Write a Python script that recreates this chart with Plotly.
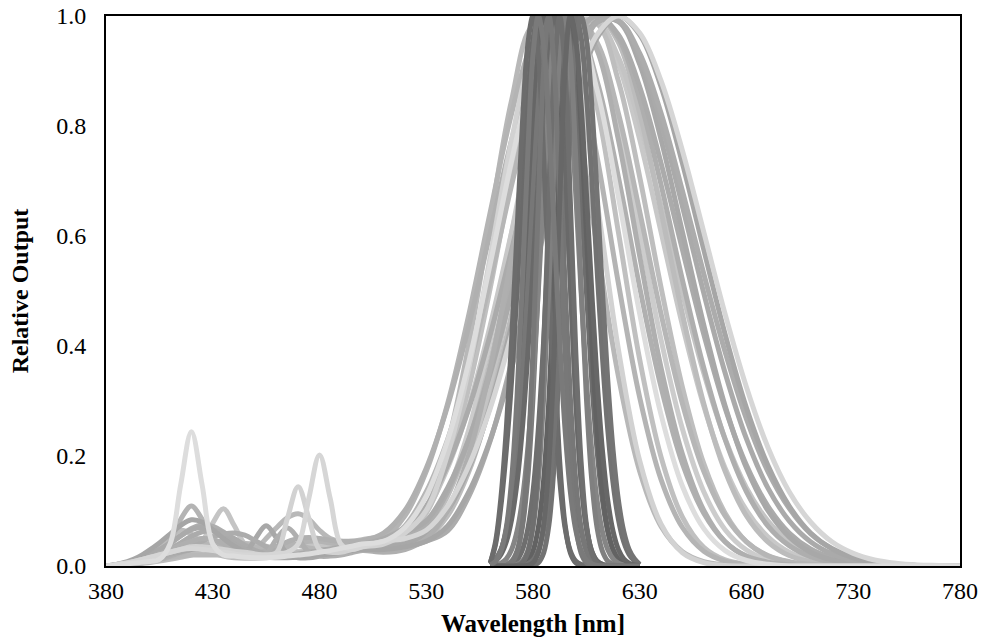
import plotly.graph_objects as go

# ---------------- axes / ticks ----------------
X_TICKS = [380, 430, 480, 530, 580, 630, 680, 730, 780]
Y_TICKS = [0.0, 0.2, 0.4, 0.6, 0.8, 1.0]

# wavelength grids (nm)
WL_BLUE = list(range(380, 501, 5))            # 380..500, blue pump residue
WL_RED = list(range(510, 781, 10))            # 510..780, phosphor emission
WL_NARROW = [560 + 2.5 * i for i in range(29)]  # 560..630, direct amber

# ---------------- PC-amber spectra: blue part (380..500 nm) ----------------
BL01 = [0,0.002,0.004,0.006,0.008,0.012,0.04,0.148,0.244,0.148,0.04,0.02,0.018,0.016,0.015,0.015,0.016,0.018,0.02,0.022,0.025,0.028,0.032,0.036,0.04]
BL02 = [0,0.003,0.006,0.01,0.015,0.02,0.025,0.03,0.032,0.03,0.028,0.025,0.022,0.02,0.02,0.02,0.022,0.025,0.04,0.123,0.202,0.123,0.04,0.03,0.035]
BL03 = [0,0.002,0.005,0.01,0.015,0.02,0.025,0.03,0.035,0.035,0.033,0.03,0.027,0.025,0.022,0.02,0.025,0.087,0.144,0.087,0.03,0.025,0.025,0.03,0.035]
BL04 = [0,0.003,0.006,0.01,0.015,0.02,0.045,0.085,0.109,0.085,0.05,0.035,0.03,0.028,0.025,0.025,0.03,0.035,0.04,0.045,0.045,0.042,0.04,0.04,0.04]
BL05 = [0,0.002,0.004,0.008,0.012,0.016,0.02,0.024,0.03,0.045,0.078,0.104,0.074,0.04,0.03,0.028,0.03,0.035,0.04,0.04,0.038,0.035,0.033,0.032,0.032]
BL06 = [0,0.002,0.004,0.007,0.01,0.013,0.016,0.018,0.02,0.02,0.02,0.02,0.02,0.022,0.03,0.05,0.07,0.088,0.095,0.085,0.065,0.05,0.045,0.045,0.048]
BL07 = [0,0.003,0.008,0.016,0.028,0.042,0.058,0.074,0.084,0.08,0.066,0.05,0.036,0.026,0.02,0.016,0.015,0.015,0.016,0.018,0.02,0.022,0.025,0.028,0.03]
BL08 = [0,0.002,0.004,0.008,0.012,0.017,0.022,0.026,0.03,0.03,0.028,0.024,0.02,0.022,0.05,0.073,0.05,0.022,0.015,0.015,0.018,0.022,0.026,0.03,0.033]
BL09 = [0,0.002,0.005,0.01,0.015,0.022,0.03,0.038,0.045,0.05,0.048,0.04,0.03,0.022,0.018,0.022,0.05,0.069,0.05,0.025,0.018,0.018,0.02,0.024,0.028]
BL10 = [0,0.002,0.005,0.01,0.018,0.028,0.04,0.055,0.068,0.075,0.072,0.062,0.048,0.035,0.026,0.02,0.018,0.018,0.02,0.022,0.025,0.027,0.03,0.032,0.035]
BL11 = [0,0.001,0.003,0.006,0.01,0.015,0.021,0.028,0.036,0.045,0.053,0.058,0.06,0.056,0.046,0.035,0.026,0.02,0.018,0.018,0.02,0.022,0.025,0.028,0.03]
BL12 = [0,0.001,0.003,0.005,0.008,0.012,0.018,0.025,0.03,0.032,0.03,0.026,0.022,0.02,0.022,0.028,0.036,0.044,0.05,0.052,0.05,0.047,0.045,0.045,0.046]
BL13 = [0,0.002,0.005,0.01,0.018,0.032,0.05,0.065,0.058,0.04,0.025,0.018,0.015,0.014,0.014,0.015,0.017,0.02,0.024,0.028,0.03,0.03,0.03,0.03,0.03]
BL14 = [0,0.002,0.005,0.01,0.016,0.024,0.032,0.04,0.046,0.05,0.048,0.042,0.034,0.027,0.022,0.019,0.018,0.019,0.021,0.024,0.027,0.03,0.032,0.034,0.035]
BL15 = [0,0.002,0.004,0.008,0.013,0.02,0.03,0.042,0.054,0.062,0.065,0.06,0.05,0.038,0.028,0.022,0.02,0.02,0.022,0.025,0.028,0.031,0.034,0.037,0.04]
BL16 = [0,0.001,0.003,0.006,0.009,0.012,0.016,0.02,0.024,0.027,0.029,0.03,0.03,0.029,0.028,0.027,0.026,0.026,0.027,0.028,0.03,0.032,0.034,0.036,0.038]
BL17 = [0,0.001,0.003,0.005,0.008,0.012,0.017,0.023,0.03,0.037,0.042,0.045,0.045,0.04,0.034,0.032,0.036,0.04,0.038,0.033,0.03,0.03,0.032,0.035,0.04]
BL18 = [0,0.002,0.006,0.012,0.02,0.03,0.042,0.055,0.066,0.07,0.064,0.052,0.04,0.03,0.024,0.02,0.018,0.018,0.02,0.022,0.025,0.028,0.031,0.034,0.036]
BL19 = [0,0.001,0.002,0.004,0.006,0.009,0.012,0.016,0.02,0.025,0.03,0.035,0.039,0.041,0.04,0.036,0.031,0.027,0.025,0.025,0.026,0.028,0.03,0.032,0.034]
BL20 = [0,0.002,0.004,0.008,0.014,0.022,0.032,0.041,0.045,0.041,0.032,0.024,0.019,0.017,0.016,0.016,0.017,0.018,0.02,0.022,0.024,0.026,0.028,0.03,0.032]

# ---------------- PC-amber spectra: phosphor part (510..780 nm) ----------------
PC01 = [0.055,0.07,0.107,0.223,0.404,0.63,0.847,0.982,0.979,0.823,0.581,0.345,0.172,0.072,0.026,0.008,0.002,0,0,0,0,0,0,0,0,0,0,0]
PC02 = [0.04,0.06,0.101,0.203,0.36,0.563,0.775,0.938,1.0,0.902,0.662,0.394,0.191,0.076,0.024,0.006,0.001,0,0,0,0,0,0,0,0,0,0,0]
PC03 = [0.05,0.091,0.172,0.295,0.458,0.644,0.823,0.952,1.0,0.929,0.744,0.514,0.306,0.157,0.07,0.027,0.009,0.003,0,0,0,0,0,0,0,0,0,0]
PC04 = [0.035,0.05,0.096,0.186,0.325,0.506,0.707,0.882,0.986,0.98,0.835,0.607,0.375,0.198,0.089,0.034,0.011,0.003,0,0,0,0,0,0,0,0,0,0]
PC05 = [0.045,0.07,0.127,0.228,0.372,0.55,0.737,0.896,0.988,0.984,0.866,0.671,0.458,0.275,0.145,0.068,0.028,0.01,0.003,0,0,0,0,0,0,0,0,0]
PC06 = [0.03,0.04,0.066,0.135,0.249,0.411,0.607,0.801,0.946,1.0,0.946,0.801,0.607,0.411,0.249,0.135,0.066,0.029,0.011,0.004,0.001,0,0,0,0,0,0,0]
PC07 = [0.045,0.073,0.135,0.23,0.36,0.52,0.693,0.849,0.96,1.0,0.952,0.823,0.644,0.458,0.295,0.172,0.091,0.044,0.019,0.008,0.003,0.001,0,0,0,0,0,0]
PC08 = [0.035,0.045,0.064,0.127,0.228,0.372,0.55,0.737,0.896,0.988,0.986,0.882,0.707,0.506,0.325,0.186,0.096,0.044,0.018,0.007,0.002,0,0,0,0,0,0,0]
PC09 = [0.045,0.065,0.101,0.178,0.291,0.438,0.607,0.775,0.912,0.99,0.99,0.912,0.775,0.607,0.438,0.291,0.178,0.101,0.053,0.025,0.011,0.005,0.002,0,0,0,0,0]
PC10 = [0.03,0.035,0.05,0.091,0.172,0.295,0.458,0.644,0.823,0.952,1.0,0.952,0.823,0.644,0.458,0.295,0.172,0.091,0.044,0.019,0.008,0.003,0.001,0,0,0,0,0]
PC11 = [0.04,0.05,0.073,0.135,0.23,0.36,0.52,0.693,0.849,0.96,1.0,0.96,0.849,0.693,0.52,0.36,0.23,0.135,0.073,0.037,0.017,0.007,0.003,0.001,0,0,0,0]
PC12 = [0.035,0.04,0.06,0.101,0.178,0.291,0.438,0.607,0.775,0.912,0.99,0.99,0.912,0.775,0.607,0.438,0.291,0.178,0.101,0.053,0.025,0.011,0.005,0.002,0,0,0,0]
PC13 = [0.045,0.06,0.082,0.142,0.231,0.351,0.496,0.654,0.805,0.925,0.991,0.991,0.925,0.805,0.654,0.496,0.351,0.231,0.142,0.082,0.044,0.022,0.01,0.004,0.002,0,0,0]
PC14 = [0.03,0.035,0.045,0.073,0.135,0.23,0.36,0.52,0.693,0.849,0.96,1.0,0.966,0.871,0.732,0.575,0.421,0.287,0.183,0.109,0.06,0.031,0.015,0.007,0.003,0.001,0,0]
PC15 = [0.045,0.05,0.065,0.109,0.183,0.287,0.421,0.575,0.732,0.871,0.966,1.0,0.969,0.882,0.755,0.607,0.458,0.325,0.216,0.135,0.08,0.044,0.023,0.011,0.005,0.002,0.001,0]
PC16 = [0.025,0.03,0.05,0.101,0.203,0.36,0.563,0.775,0.938,1.0,0.938,0.775,0.563,0.36,0.203,0.101,0.044,0.017,0.006,0.002,0,0,0,0,0,0,0,0]
PC17 = [0.05,0.07,0.109,0.183,0.287,0.421,0.575,0.732,0.871,0.966,1.0,0.966,0.871,0.732,0.575,0.421,0.287,0.183,0.109,0.06,0.031,0.015,0.007,0.003,0.001,0,0,0]
PC18 = [0.03,0.035,0.045,0.064,0.127,0.228,0.372,0.55,0.737,0.896,0.988,0.992,0.932,0.823,0.682,0.531,0.389,0.267,0.172,0.105,0.059,0.032,0.016,0.008,0.003,0.001,0,0]
PC19 = [0.06,0.101,0.178,0.291,0.438,0.607,0.775,0.912,0.99,0.986,0.882,0.707,0.506,0.325,0.186,0.096,0.044,0.018,0.007,0.002,0,0,0,0,0,0,0,0]
PC20 = [0.035,0.04,0.05,0.096,0.186,0.325,0.506,0.707,0.882,0.986,0.991,0.925,0.805,0.654,0.496,0.351,0.231,0.142,0.082,0.044,0.022,0.01,0.004,0.002,0,0,0,0]

# ---------------- direct amber (narrow, dark gray), 560..630 nm ----------------
DA01 = [0.006,0.04,0.11,0.211,0.339,0.501,0.678,0.841,0.958,1.0,0.902,0.662,0.394,0.191,0.076,0.024,0.006,0.001,0,0,0,0,0,0,0,0,0,0,0]
DA02 = [0,0,0,0,0,0,0,0,0.001,0.006,0.024,0.076,0.191,0.394,0.662,0.902,1.0,0.962,0.857,0.707,0.54,0.381,0.249,0.151,0.085,0.044,0.021,0.009,0.002]
DA03 = [0.002,0.011,0.029,0.066,0.135,0.249,0.411,0.607,0.801,0.946,1.0,0.946,0.801,0.607,0.411,0.249,0.135,0.066,0.029,0.011,0.004,0.001,0,0,0,0,0,0,0]
DA04 = [0,0,0.001,0.003,0.009,0.027,0.07,0.157,0.306,0.514,0.744,0.929,1.0,0.929,0.744,0.514,0.306,0.157,0.07,0.027,0.009,0.003,0.001,0,0,0,0,0,0]
DA05 = [0,0,0,0.001,0.004,0.011,0.029,0.066,0.135,0.249,0.411,0.607,0.801,0.946,1.0,0.958,0.841,0.678,0.501,0.339,0.211,0.12,0.063,0.03,0.013,0.005,0.002,0.001,0]
DA06 = [0.003,0.013,0.03,0.063,0.12,0.211,0.339,0.501,0.678,0.841,0.958,1.0,0.929,0.744,0.514,0.306,0.157,0.07,0.027,0.009,0.003,0.001,0,0,0,0,0,0,0]
DA07 = [0,0,0,0,0,0.001,0.003,0.009,0.027,0.07,0.157,0.306,0.514,0.744,0.929,1.0,0.946,0.801,0.607,0.411,0.249,0.135,0.066,0.029,0.011,0.004,0.001,0,0]
DA08 = [0.001,0.002,0.005,0.013,0.03,0.063,0.12,0.211,0.339,0.501,0.678,0.841,0.958,1.0,0.958,0.841,0.678,0.501,0.339,0.211,0.12,0.063,0.03,0.013,0.005,0.002,0.001,0,0]
DA09 = [0.005,0.045,0.125,0.249,0.411,0.607,0.801,0.946,1.0,0.929,0.744,0.514,0.306,0.157,0.07,0.027,0.009,0.003,0.001,0,0,0,0,0,0,0,0,0,0]
DA10 = [0,0,0,0,0,0,0.001,0.004,0.011,0.029,0.066,0.135,0.249,0.411,0.607,0.801,0.946,1.0,0.958,0.841,0.678,0.501,0.339,0.211,0.12,0.063,0.03,0.013,0.003]
DA11 = [0.002,0.009,0.021,0.044,0.085,0.151,0.249,0.381,0.54,0.707,0.857,0.962,1.0,0.929,0.744,0.514,0.306,0.157,0.07,0.027,0.009,0.003,0.001,0,0,0,0,0,0]
DA12 = [0,0,0,0,0.001,0.003,0.009,0.027,0.07,0.157,0.306,0.514,0.744,0.929,1.0,0.929,0.744,0.514,0.306,0.157,0.07,0.027,0.009,0.003,0.001,0,0,0,0]
DA13 = [0,0,0,0,0,0.001,0.006,0.024,0.076,0.191,0.394,0.662,0.902,1.0,0.902,0.662,0.394,0.191,0.076,0.024,0.006,0.001,0,0,0,0,0,0,0]
DA14 = [0,0,0,0.001,0.006,0.024,0.076,0.191,0.394,0.662,0.902,1.0,0.902,0.662,0.394,0.191,0.076,0.024,0.006,0.001,0,0,0,0,0,0,0,0,0]
DA15 = [0,0,0,0,0,0,0,0.001,0.006,0.024,0.076,0.191,0.394,0.662,0.902,1.0,0.958,0.841,0.678,0.501,0.339,0.211,0.12,0.063,0.03,0.013,0.005,0.002,0.001]
DA16 = [0.002,0.009,0.027,0.07,0.157,0.306,0.514,0.744,0.929,1.0,0.946,0.801,0.607,0.411,0.249,0.135,0.066,0.029,0.011,0.004,0.001,0,0,0,0,0,0,0,0]

# each PC-amber LED: (blue part, phosphor part, gray level)
PC_LEDS = [
    (BL20, PC06, "#cccccc"), (BL16, PC09, "#c8c8c8"), (BL05, PC20, "#c4c4c4"),
    (BL14, PC04, "#c0c0c0"), (BL19, PC08, "#bebebe"), (BL13, PC10, "#bcbcbc"),
    (BL06, PC01, "#b8b8b8"), (BL17, PC07, "#b6b6b6"), (BL04, PC03, "#b4b4b4"),
    (BL12, PC19, "#b0b0b0"), (BL10, PC11, "#aeaeae"), (BL15, PC17, "#ababab"),
    (BL08, PC12, "#a8a8a8"), (BL18, PC13, "#aaaaaa"), (BL11, PC18, "#acacac"),
    (BL09, PC16, "#afafaf"), (BL07, PC14, "#a6a6a6"), (BL03, PC02, "#d2d2d2"),
    (BL02, PC15, "#d6d6d6"), (BL01, PC05, "#dddddd"),
]
DA_LEDS = [DA01, DA02, DA03, DA04, DA05, DA06, DA07, DA08,
           DA09, DA10, DA11, DA12, DA13, DA14, DA15, DA16]
DA_COLORS = ["#6a6a6a", "#727272", "#666666", "#7c7c7c", "#6e6e6e", "#777777",
             "#626262", "#858585", "#6c6c6c", "#747474", "#696969", "#808080",
             "#6f6f6f", "#787878", "#676767", "#7a7a7a"]

for b, r, _ in PC_LEDS:
    assert len(b) == len(WL_BLUE) and len(r) == len(WL_RED)
for s in DA_LEDS:
    assert len(s) == len(WL_NARROW)

fig = go.Figure()
for blue, red, col in PC_LEDS:
    fig.add_trace(go.Scatter(
        x=WL_BLUE + WL_RED, y=blue + red, mode="lines",
        line=dict(color=col, width=5, shape="spline", smoothing=1.0),
        hoverinfo="skip", showlegend=False))
for ys, col in zip(DA_LEDS, DA_COLORS):
    fig.add_trace(go.Scatter(
        x=WL_NARROW, y=ys, mode="lines",
        line=dict(color=col, width=5, shape="spline", smoothing=1.0),
        hoverinfo="skip", showlegend=False))

FONT = "Liberation Serif, Times New Roman, serif"

fig.update_layout(
    width=982, height=642,
    margin=dict(l=106, r=22, t=16, b=76),
    paper_bgcolor="white", plot_bgcolor="white",
    font=dict(family=FONT, size=24, color="black"),
    showlegend=False,
)
fig.update_xaxes(
    range=[380, 780], tickmode="array", tickvals=X_TICKS,
    ticktext=[str(v) for v in X_TICKS],
    showgrid=False, zeroline=False, showline=True, linecolor="black",
    linewidth=2, mirror=True, ticks="", ticklabelstandoff=2,
    layer="below traces", automargin=False,
    title=dict(text="<b>Wavelength [nm]</b>", font=dict(family=FONT, size=25), standoff=12),
)
fig.update_yaxes(
    range=[0, 1.0], tickmode="array", tickvals=Y_TICKS,
    ticktext=["%.1f" % v for v in Y_TICKS],
    showgrid=False, zeroline=False, showline=True, linecolor="black",
    linewidth=2, mirror=True, ticks="", ticklabelstandoff=13,
    layer="below traces", automargin=False,
    title=dict(text="<b>Relative Output</b>", font=dict(family=FONT, size=24), standoff=21),
)

fig.write_html("out.html", config={"displayModeBar": False},
               post_script="document.body.style.margin='0';document.body.style.overflow='hidden';")
